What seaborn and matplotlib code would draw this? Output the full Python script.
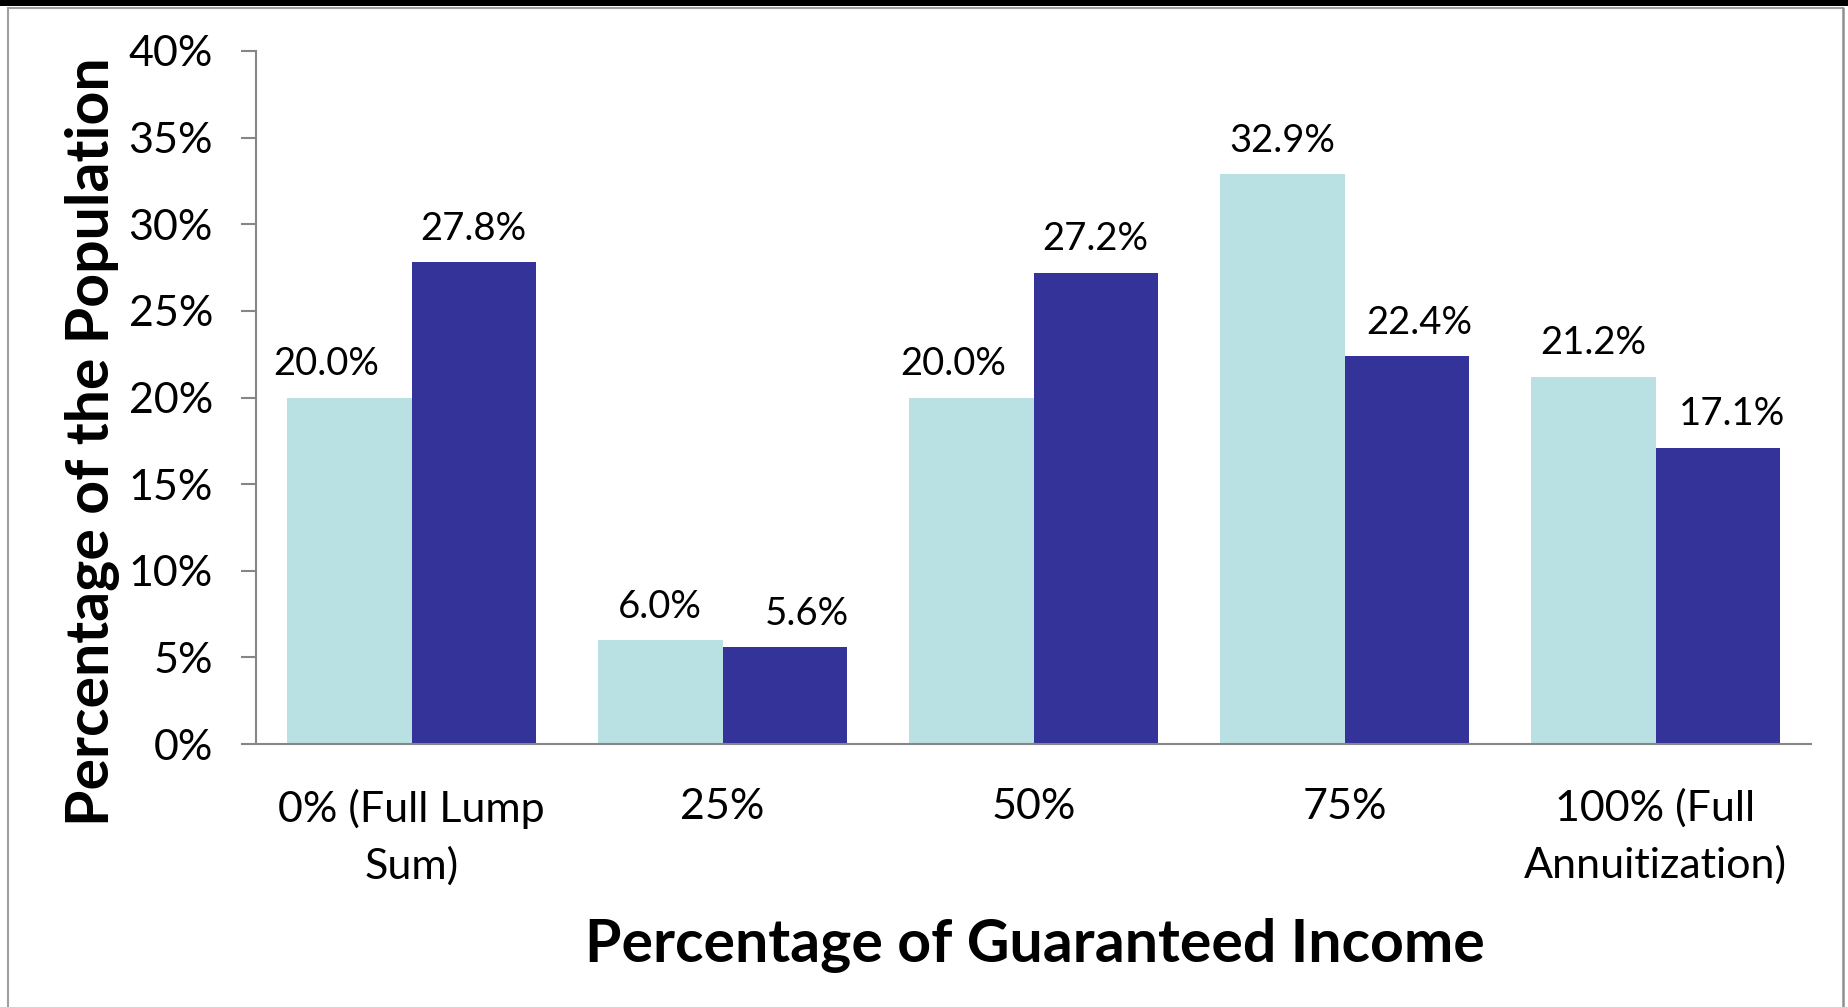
import matplotlib
matplotlib.use("Agg")
import matplotlib.pyplot as plt
from matplotlib.lines import Line2D
from matplotlib.patches import Rectangle
import seaborn as sns
import pandas as pd

# Chart data
categories = ["0% (Full Lump\nSum)", "25%", "50%", "75%", "100% (Full\nAnnuitization)"]
series_names = ["Series 1", "Series 2"]
series_1 = [20.0, 6.0, 20.0, 32.9, 21.2]
series_2 = [27.8, 5.6, 27.2, 22.4, 17.1]
y_ticks = [0, 5, 10, 15, 20, 25, 30, 35, 40]
palette = ["#B9E0E3", "#333399"]

# Horizontal nudges (points) for value labels that were moved sideways
label_nudge_1 = [-17, 0, -13, 0, 0]
label_nudge_2 = [0, 16, 0, 9, 10]

df = pd.DataFrame({
    "category": categories * 2,
    "series": [series_names[0]] * len(categories) + [series_names[1]] * len(categories),
    "value": series_1 + series_2,
})

sns.set_theme(style="white")
plt.rcParams["font.family"] = ["Lato", "DejaVu Sans"]
plt.rcParams["text.color"] = "black"
plt.rcParams["axes.labelcolor"] = "black"

W, H = 1849, 1007
fig = plt.figure(figsize=(W / 100, H / 100), dpi=100)
ax = fig.add_axes([256 / W, 1 - 744 / H, (1811 - 256) / W, (744 - 51) / H])

sns.barplot(data=df, x="category", y="value", hue="series", order=categories,
            hue_order=series_names, palette=palette, width=0.8, linewidth=0,
            saturation=1, legend=False, ax=ax)

for cont, nudges in zip(ax.containers, [label_nudge_1, label_nudge_2]):
    texts = ax.bar_label(cont, fmt="%.1f%%", padding=11, fontsize=27.5, color="black")
    for t, dx in zip(texts, nudges):
        x0, y0 = t.xyann
        t.xyann = (x0 + dx, y0)

axis_grey = "#868686"
ax.set_ylim(0, 40)
ax.set_xlim(-0.5, len(categories) - 0.5)
ax.set_yticks(y_ticks)
ax.set_yticklabels([f"{v}%" for v in y_ticks], fontsize=31)
ax.set_xticks(range(len(categories)))
ax.set_xticklabels(categories, fontsize=31, linespacing=1.55)
ax.set_xticks([i - 0.5 for i in range(len(categories) + 1)], minor=True)

ax.tick_params(axis="x", which="major", length=0, pad=32, labelcolor="black")
ax.tick_params(axis="x", which="minor", length=11, width=1.5, color=axis_grey, direction="out")
ax.tick_params(axis="y", which="major", length=11, width=1.5, color=axis_grey,
               direction="out", pad=20, left=True, labelcolor="black")

for side in ["top", "right"]:
    ax.spines[side].set_visible(False)
for side in ["left", "bottom"]:
    ax.spines[side].set_color(axis_grey)
    ax.spines[side].set_linewidth(1.5)

ax.set_xlabel("")
ax.set_ylabel("")
fig.text(1035 / W, 1 - 962 / H, "Percentage of Guaranteed Income",
         ha="center", va="baseline", fontsize=42.5, fontweight="bold", color="black")
fig.text(109 / W, 1 - 442 / H, "Percentage of the Population", rotation=90,
         rotation_mode="anchor", ha="center", va="baseline",
         fontsize=42.5, fontweight="bold", color="black")

# Outer frame: dark band on top, thin grey border
fig.add_artist(Rectangle((0, 1 - 6 / H), 1, 6 / H, transform=fig.transFigure,
                         color="black", lw=0))
frame_grey = "#a0a0a0"
fig.add_artist(Line2D([8 / W, 8 / W], [0, 1 - 8 / H], transform=fig.transFigure,
                      color=frame_grey, lw=1.5))
fig.add_artist(Line2D([8 / W, 1843 / W], [1 - 8 / H, 1 - 8 / H], transform=fig.transFigure,
                      color=frame_grey, lw=1.5))
fig.add_artist(Line2D([1843 / W, 1843 / W], [0, 1 - 8 / H], transform=fig.transFigure,
                      color="#909090", lw=1.8))

fig.savefig("out.png", dpi=100)
